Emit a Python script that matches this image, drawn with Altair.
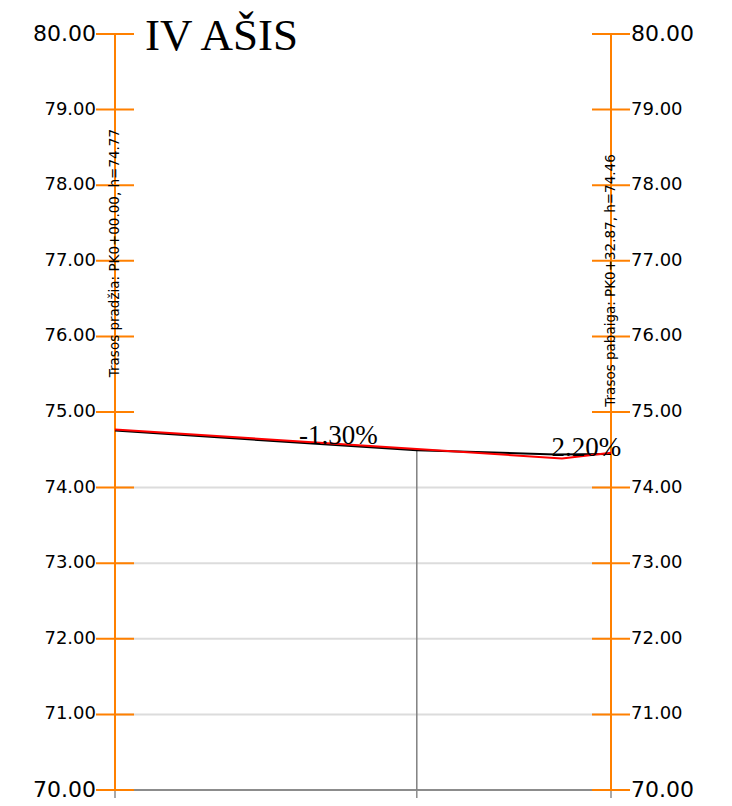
import altair as alt
import pandas as pd

# ---- data ----
tick_values = [70, 71, 72, 73, 74, 75, 76, 77, 78, 79, 80]
tick_labels = ["70.00", "71.00", "72.00", "73.00", "74.00", "75.00",
               "76.00", "77.00", "78.00", "79.00", "80.00"]
grid_values = [71, 72, 73, 74]

design_station = [0.0, 29.62, 32.87]
design_height = [74.77, 74.385, 74.46]
grade_labels = ["-1.30%", "2.20%"]

terrain_station = [0.0, 20.0, 29.2, 32.87]
terrain_height = [74.77, 74.51, 74.455, 74.46]

marker_station = [20.0]
marker_height = [74.51]
bottom_tick_station = [0.0, 20.0, 32.87]

start_text = "Trasos pradžia: PK0+00.00, h=74.77"
end_text = "Trasos pabaiga: PK0+32.87, h=74.46"
title_text = "IV AŠIS"

X0, X1 = 0.0, 32.87
Y0, Y1 = 70, 80
W, H = 496, 756
ORANGE = "#ff8000"

xs = alt.Scale(domain=[X0, X1], nice=False, zero=False)
ys = alt.Scale(domain=[Y0, Y1], nice=False, zero=False)

ticks_df = pd.DataFrame({
    "h": tick_values,
    "lab": tick_labels,
    "size": [22 if v in (70, 80) else 18 for v in tick_values],
})
grid_df = pd.DataFrame({"h": grid_values})
design_df = pd.DataFrame({"st": design_station, "h": design_height})
terrain_df = pd.DataFrame({"st": terrain_station, "h": terrain_height})
grade_df = pd.DataFrame({
    "st": [(design_station[i] + design_station[i + 1]) / 2 for i in range(len(grade_labels))],
    "h": [(design_height[i] + design_height[i + 1]) / 2 for i in range(len(grade_labels))],
    "lab": grade_labels,
})
axes_df = pd.DataFrame({"st": [X0, X1], "lo": [Y0, Y0], "hi": [Y1, Y1]})
marker_df = pd.DataFrame({"st": marker_station, "h": marker_height, "lo": [Y0] * len(marker_station)})
btick_df = pd.DataFrame({"st": bottom_tick_station})
base_df = pd.DataFrame({"h": [Y0], "a": [X0], "b": [X1]})
vtext_df = pd.DataFrame({"st": [X0, X1], "h": [75.46, 75.07], "lab": [start_text, end_text]})

grid = alt.Chart(grid_df).mark_rule(color="#dcdcdc", strokeWidth=2).encode(
    y=alt.Y("h:Q", scale=ys, axis=None),
    x=alt.value(0), x2=alt.value(W))

base = alt.Chart(base_df).mark_rule(color="#8c8c8c", strokeWidth=2).encode(
    y=alt.Y("h:Q", scale=ys, axis=None),
    x=alt.X("a:Q", scale=xs, axis=None), x2="b:Q")

marker = alt.Chart(marker_df).mark_rule(color="#808080", strokeWidth=1.5).encode(
    x=alt.X("st:Q", scale=xs, axis=None),
    y=alt.Y("h:Q", scale=ys, axis=None), y2="lo:Q")

bticks = alt.Chart(btick_df).mark_rule(color="#8c8c8c", strokeWidth=1.5).encode(
    x=alt.X("st:Q", scale=xs, axis=None),
    y=alt.value(H), y2=alt.value(H + 8))

axes_lines = alt.Chart(axes_df).mark_rule(color=ORANGE, strokeWidth=2).encode(
    x=alt.X("st:Q", scale=xs, axis=None),
    y=alt.Y("lo:Q", scale=ys, axis=None), y2="hi:Q")

lticks = alt.Chart(ticks_df).mark_rule(color=ORANGE, strokeWidth=2).encode(
    y=alt.Y("h:Q", scale=ys, axis=None), x=alt.value(-19), x2=alt.value(19))
rticks = alt.Chart(ticks_df).mark_rule(color=ORANGE, strokeWidth=2).encode(
    y=alt.Y("h:Q", scale=ys, axis=None), x=alt.value(W - 19), x2=alt.value(W + 19))

llabels = alt.Chart(ticks_df).mark_text(align="right", baseline="middle", font="DejaVu Sans",
                                        color="black").encode(
    y=alt.Y("h:Q", scale=ys, axis=None), x=alt.value(-19),
    text="lab:N", size=alt.Size("size:Q", scale=None, legend=None))
rlabels = alt.Chart(ticks_df).mark_text(align="left", baseline="middle", font="DejaVu Sans",
                                        color="black").encode(
    y=alt.Y("h:Q", scale=ys, axis=None), x=alt.value(W + 20),
    text="lab:N", size=alt.Size("size:Q", scale=None, legend=None))

terrain = alt.Chart(terrain_df).mark_line(color="black", strokeWidth=2, yOffset=1.2).encode(
    x=alt.X("st:Q", scale=xs, axis=None), y=alt.Y("h:Q", scale=ys, axis=None))
design = alt.Chart(design_df).mark_line(color="#ff0000", strokeWidth=2).encode(
    x=alt.X("st:Q", scale=xs, axis=None), y=alt.Y("h:Q", scale=ys, axis=None))

grades = alt.Chart(grade_df).mark_text(align="center", baseline="alphabetic",
                                       font="Liberation Serif", fontSize=27, color="black").encode(
    x=alt.X("st:Q", scale=xs, axis=None), y=alt.Y("h:Q", scale=ys, axis=None), text="lab:N")

vtexts = alt.Chart(vtext_df).mark_text(align="left", baseline="middle", angle=270,
                                       font="DejaVu Sans", fontSize=13.5, color="black").encode(
    x=alt.X("st:Q", scale=xs, axis=None), y=alt.Y("h:Q", scale=ys, axis=None), text="lab:N")

title = alt.Chart(pd.DataFrame({"t": [title_text]})).mark_text(
    align="left", baseline="alphabetic", font="Liberation Serif", fontSize=45, color="black").encode(
    x=alt.value(30), y=alt.value(16), text="t:N")

chart = alt.layer(grid, base, marker, bticks, axes_lines, lticks, rticks, llabels, rlabels,
                  terrain, design, grades, vtexts, title).properties(
    width=W, height=H,
    autosize=alt.AutoSizeParams(type="none"),
    padding={"left": 107, "top": 26, "right": 113, "bottom": 20},
).configure_view(stroke=None)

chart.save("out.html", embed_options={"renderer": "svg", "actions": False})
